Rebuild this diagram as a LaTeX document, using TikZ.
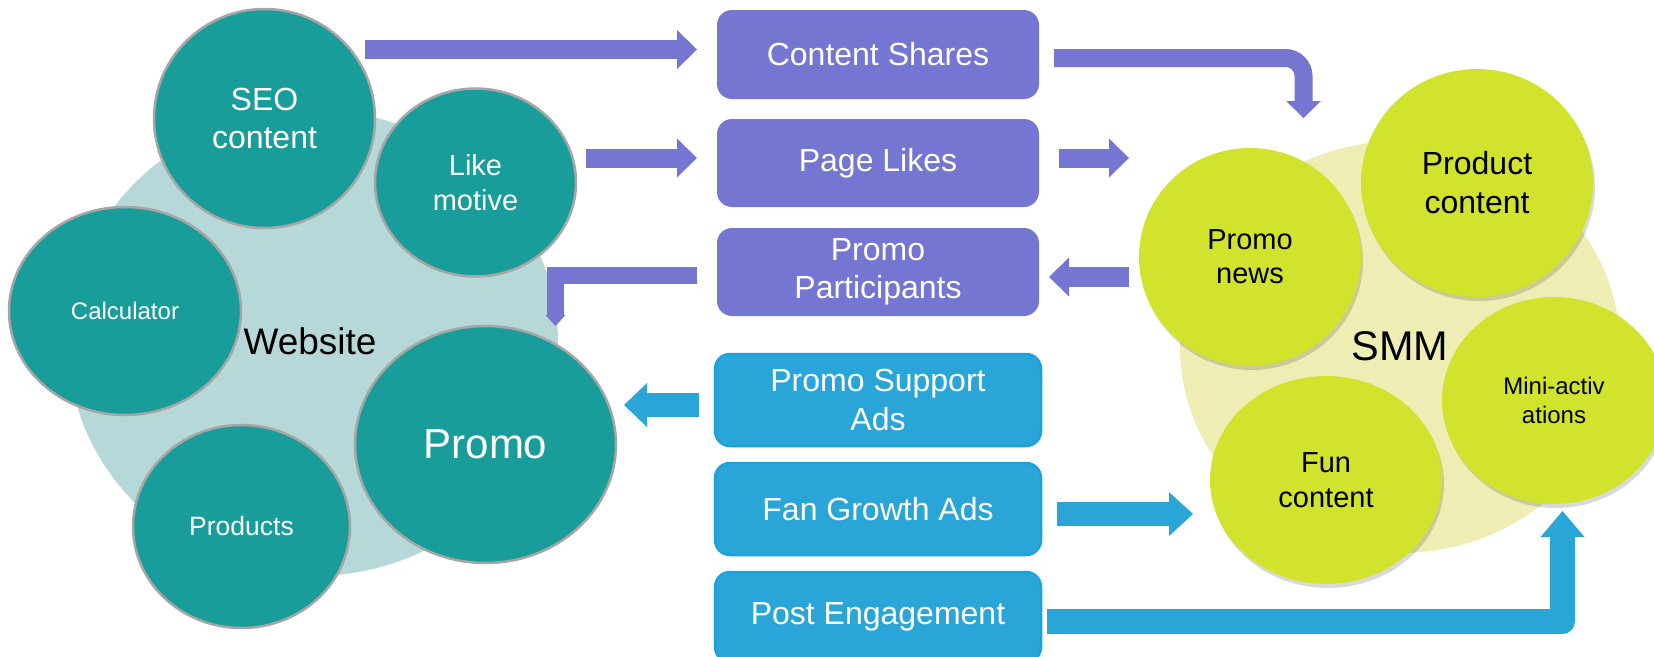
\documentclass[tikz,border=0pt]{standalone}
\usepackage{fontspec}
\setmainfont{Liberation Sans}
\usetikzlibrary{shapes.geometric,arrows.meta,shadows}
\definecolor{teal1}{RGB}{24,157,154}
\definecolor{tealstroke}{RGB}{166,166,166}
\definecolor{webbg}{RGB}{183,216,216}
\definecolor{lime1}{RGB}{210,227,45}
\definecolor{smmbg}{RGB}{237,237,180}
\definecolor{purp}{RGB}{117,117,210}
\definecolor{bblue}{RGB}{41,166,215}
\definecolor{bborder}{RGB}{26,162,220}
\newcommand{\fsz}[2]{\fontsize{#1}{#2}\selectfont}
\begin{document}
\begin{tikzpicture}[x=1pt,y=-1pt,
  tealc/.style={ellipse, draw=tealstroke, line width=2.5pt, fill=teal1, text=white, inner sep=0pt, align=center},
  limec/.style={ellipse, fill=lime1, text=black, inner sep=0pt, align=center,
     drop shadow={opacity=0.15, shadow xshift=2pt, shadow yshift=-4pt, fill=black}},
  pbox/.style={rectangle, rounded corners=15pt, fill=purp, text=white, minimum width=322pt, minimum height=88pt, inner sep=0pt, align=center, font=\fsz{32}{38.5}},
  bbox/.style={pbox, fill=bblue, draw=bborder, line width=2.5pt, minimum width=326pt, minimum height=92pt},
  parrow/.style={draw=purp, line width=19pt, -{Triangle[length=20pt,width=39pt,line width=0pt]}},
  barrow/.style={draw=bblue, line width=24pt, line join=round, -{Triangle[length=24pt,width=44pt,line width=0pt]}}
]
\useasboundingbox (0,0) rectangle (1654,656);

% ---- Website cluster ----
\node[ellipse, fill=webbg, minimum width=490pt, minimum height=466pt, inner sep=0pt] (web) at (313,343) {};
\node[font=\fsz{37}{44}, inner sep=0pt] (webt) at (310,341) {Website};
\node[tealc, minimum width=221pt, minimum height=219pt, font=\fsz{32}{38}] (seo) at (264.5,118.5) {SEO\\content};
\node[tealc, minimum width=201pt, minimum height=188pt, font=\fsz{29}{34.5}] (like) at (475.5,182.5) {Like\\motive};
\node[tealc, minimum width=232pt, minimum height=208pt, font=\fsz{24}{29}] (calc) at (125,311) {Calculator};
\node[tealc, minimum width=217pt, minimum height=203pt, font=\fsz{26.5}{31}] (prod) at (241.5,526.5) {Products};
\node[tealc, minimum width=261pt, minimum height=237pt, font=\fsz{42}{50}] (promo) at (485.5,444.5) {Promo};

% ---- SMM cluster ----
\node[ellipse, fill=smmbg, minimum width=440pt, minimum height=412pt, inner sep=0pt] (smm) at (1400,347) {};
\node[font=\fsz{41.5}{48}, inner sep=0pt] (smmt) at (1400,346) {SMM};
\node[limec, minimum width=232pt, minimum height=228pt, font=\fsz{32}{39}] (pc) at (1477,183) {Product\\content};
\node[limec, minimum width=222pt, minimum height=218pt, font=\fsz{29}{34}] (pn) at (1250,257) {Promo\\news};
\node[limec, minimum width=224pt, minimum height=207pt, font=\fsz{24}{28.5}] (ma) at (1554,400.5) {Mini-activ\\ations};
\node[limec, minimum width=232pt, minimum height=208pt, font=\fsz{29}{35}] (fc) at (1326,480) {Fun\\content};

% ---- middle boxes ----
\node[pbox, minimum height=89pt] (cs) at (878,54.5) {Content Shares};
\node[pbox] (pl) at (878,163) {Page Likes};
\node[pbox] (pp) at (878,272) {Promo\\Participants};
\node[bbox] (psa) at (878,400) {Promo Support\\Ads};
\node[bbox] (fga) at (878,509) {Fan Growth Ads};
\node[bbox, minimum height=90pt] (pe) at (878,617) {Post Engagement};

% ---- connector ends ----
\coordinate (a1s) at (365,49.5);   \coordinate (a1e) at (697,49.5);
\coordinate (a2s) at (586,158);    \coordinate (a2e) at (697,158);
\coordinate (a3s) at (1059,158);   \coordinate (a3e) at (1129,158);
\coordinate (a4s) at (1129,277);   \coordinate (a4e) at (1049,277);
\coordinate (a5s) at (1054,58);    \coordinate (a5e) at (1303.5,118);
\coordinate (a6s) at (697,275.5);  \coordinate (a6e) at (555.5,326);
\coordinate (a7s) at (699,405);    \coordinate (a7e) at (624,405);
\coordinate (a8s) at (1057,514);   \coordinate (a8e) at (1193,514);
\coordinate (a9s) at (1047,621.5); \coordinate (a9e) at (1562.5,511);

% ---- purple arrows ----
\draw[parrow] (a1s) -- (a1e);
\draw[parrow] (a2s) -- (a2e);
\draw[parrow] (a3s) -- (a3e);
\draw[parrow, line width=20pt] (a4s) -- (a4e);
\draw[draw=purp, line width=18pt, rounded corners=18pt,
      -{Triangle[length=17pt,width=35pt,line width=0pt]}] (a5s) -| (a5e);
\draw[draw=purp, line width=17pt,
      -{Triangle[length=11pt,width=20pt,line width=0pt]}] (a6s) -| (a6e);

% ---- blue arrows ----
\draw[barrow, -{Triangle[length=23pt,width=44pt,line width=0pt]}] (a7s) -- (a7e);
\draw[barrow] (a8s) -- (a8e);
\draw[barrow, line width=25pt, -{Triangle[length=26pt,width=44pt,line width=0pt]}] (a9s) -| (a9e);
\end{tikzpicture}
\end{document}
